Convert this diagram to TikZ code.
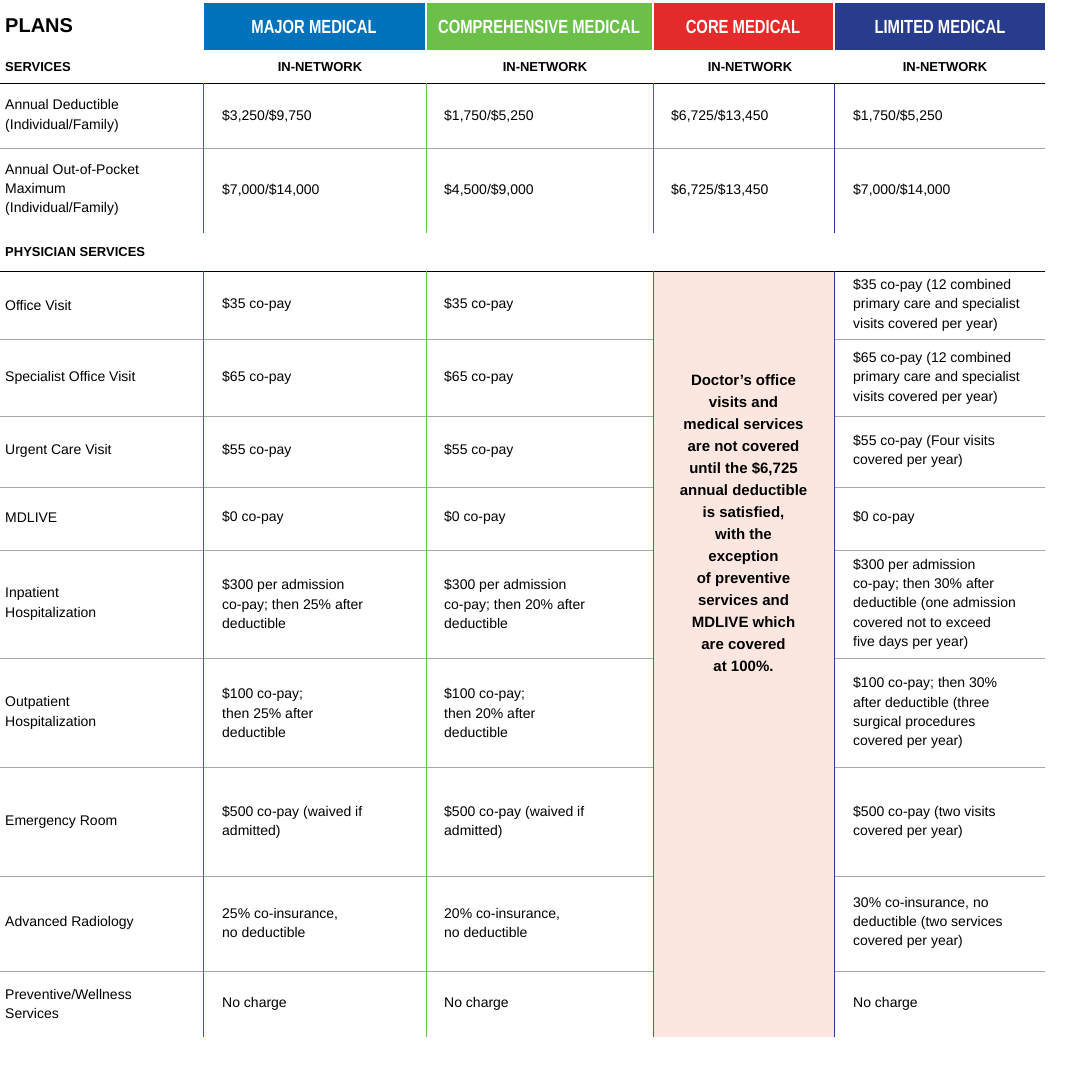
\documentclass[tikz,border=0pt]{standalone}
\usepackage{fontspec}
\setmainfont{Liberation Sans}
\newfontfamily\condfont[FakeStretch=0.78]{Liberation Sans}
\usetikzlibrary{positioning}
\usepackage{xcolor}
\definecolor{majorblue}{HTML}{0072BC}
\definecolor{compgreen}{HTML}{6CC04A}
\definecolor{corered}{HTML}{E42B2B}
\definecolor{limitblue}{HTML}{283C8E}
\definecolor{corepink}{HTML}{FCE6E0}

\begin{document}
\begin{tikzpicture}[
        x=1pt, y=-1pt,
        cell/.style={anchor=west, align=left, inner sep=0pt, font=\fontsize{14}{19.3}\selectfont},
        head/.style={fill=#1, text=white, minimum height=47pt, inner sep=0pt, font=\condfont\bfseries\fontsize{19}{20}\selectfont},
        subhead/.style={inner sep=0pt, font=\bfseries\fontsize{13}{15}\selectfont},
        grid/.style={gray!70, line width=0.6pt}
    ]
        \useasboundingbox (0,0) rectangle (1076,1071);

        % Plan headers
        \node[font=\bfseries\fontsize{20}{22}\selectfont, anchor=west, inner sep=0pt] (plans) at (5,26) {PLANS};
        \node[head=majorblue, minimum width=221pt] (major) at (314,26.5) {MAJOR MEDICAL};
        \node[head=compgreen, minimum width=225pt] (comp) at (539,26.5) {COMPREHENSIVE MEDICAL};
        \node[head=corered, minimum width=179pt] (core) at (743,26.5) {CORE MEDICAL};
        \node[head=limitblue, minimum width=210pt] (limit) at (940,26.5) {LIMITED MEDICAL};

        \node[subhead, anchor=west] (services) at (5,67) {SERVICES};
        \foreach \x/\n in {320/a, 545/b, 750/c, 945/d}
            \node[subhead] (net\n) at (\x,67) {IN-NETWORK};

        % Core column background
        \fill[corepink] (653,271) rectangle (834,1037);

        % Rules
        \draw[black, line width=0.9pt] (0,83) -- (1045,83);
        \draw[black, line width=0.9pt] (0,271) -- (1045,271);
        \draw[grid] (0,148) -- (1045,148);
        \foreach \y in {339,416,487,550,658,767,876,971} {
            \draw[grid] (0,\y) -- (653,\y);
            \draw[grid] (834,\y) -- (1045,\y);
        }

        % Column separators
        \foreach \x/\c in {203/majorblue, 426/compgreen, 653/corered, 834/limitblue} {
            \draw[\c, line width=0.9pt] (\x,83) -- (\x,233);
            \draw[\c, line width=0.9pt] (\x,271) -- (\x,1037);
        }

        % Deductibles
        \node[cell] (deduct) at (5,116) {Annual Deductible\\(Individual/Family)};
        \node[cell] (deducta) at (222,116) {\$3,250/\$9,750};
        \node[cell] (deductb) at (444,116) {\$1,750/\$5,250};
        \node[cell] (deductc) at (671,116) {\$6,725/\$13,450};
        \node[cell] (deductd) at (853,116) {\$1,750/\$5,250};

        \node[cell] (oop) at (5,190) {Annual Out-of-Pocket\\Maximum\\(Individual/Family)};
        \node[cell] (oopa) at (222,190) {\$7,000/\$14,000};
        \node[cell] (oopb) at (444,190) {\$4,500/\$9,000};
        \node[cell] (oopc) at (671,190) {\$6,725/\$13,450};
        \node[cell] (oopd) at (853,190) {\$7,000/\$14,000};

        \node[subhead, anchor=west] (physician) at (5,252) {PHYSICIAN SERVICES};

        % Physician rows
        \node[cell] (office) at (5,305) {Office Visit};
        \node[cell] (officea) at (222,305) {\$35 co-pay};
        \node[cell] (officeb) at (444,305) {\$35 co-pay};
        \node[cell] (officed) at (853,305) {\$35 co-pay (12 combined\\primary care and specialist\\visits covered per year)};

        \node[cell] (spec) at (5,378) {Specialist Office Visit};
        \node[cell] (speca) at (222,378) {\$65 co-pay};
        \node[cell] (specb) at (444,378) {\$65 co-pay};
        \node[cell] (specd) at (853,378) {\$65 co-pay (12 combined\\primary care and specialist\\visits covered per year)};

        \node[cell] (urgent) at (5,451) {Urgent Care Visit};
        \node[cell] (urgenta) at (222,451) {\$55 co-pay};
        \node[cell] (urgentb) at (444,451) {\$55 co-pay};
        \node[cell] (urgentd) at (853,451) {\$55 co-pay (Four visits\\covered per year)};

        \node[cell] (mdlive) at (5,518) {MDLIVE};
        \node[cell] (mdlivea) at (222,518) {\$0 co-pay};
        \node[cell] (mdliveb) at (444,518) {\$0 co-pay};
        \node[cell] (mdlived) at (853,518) {\$0 co-pay};

        \node[cell] (inpat) at (5,604) {Inpatient\\Hospitalization};
        \node[cell] (inpata) at (222,604) {\$300 per admission\\co-pay; then 25\% after\\deductible};
        \node[cell] (inpatb) at (444,604) {\$300 per admission\\co-pay; then 20\% after\\deductible};
        \node[cell] (inpatd) at (853,604) {\$300 per admission\\co-pay; then 30\% after\\deductible (one admission\\covered not to exceed\\five days per year)};

        \node[cell] (outpat) at (5,713) {Outpatient\\Hospitalization};
        \node[cell] (outpata) at (222,713) {\$100 co-pay;\\then 25\% after\\deductible};
        \node[cell] (outpatb) at (444,713) {\$100 co-pay;\\then 20\% after\\deductible};
        \node[cell] (outpatd) at (853,713) {\$100 co-pay; then 30\%\\after deductible (three\\surgical procedures\\covered per year)};

        \node[cell] (er) at (5,822) {Emergency Room};
        \node[cell] (era) at (222,822) {\$500 co-pay (waived if\\admitted)};
        \node[cell] (erb) at (444,822) {\$500 co-pay (waived if\\admitted)};
        \node[cell] (erd) at (853,822) {\$500 co-pay (two visits\\covered per year)};

        \node[cell] (radio) at (5,923) {Advanced Radiology};
        \node[cell] (radioa) at (222,923) {25\% co-insurance,\\no deductible};
        \node[cell] (radiob) at (444,923) {20\% co-insurance,\\no deductible};
        \node[cell] (radiod) at (853,923) {30\% co-insurance, no\\deductible (two services\\covered per year)};

        \node[cell] (prev) at (5,1004) {Preventive/Wellness\\Services};
        \node[cell] (preva) at (222,1004) {No charge};
        \node[cell] (prevb) at (444,1004) {No charge};
        \node[cell] (prevd) at (853,1004) {No charge};

        % Core note
        \node[align=center, inner sep=0pt, font=\bfseries\fontsize{15}{22}\selectfont] (corenote) at (743.5,523) {Doctor’s office\\visits and\\medical services\\are not covered\\until the \$6,725\\annual deductible\\is satisfied,\\with the\\exception\\of preventive\\services and\\MDLIVE which\\are covered\\at 100\%.};
    \end{tikzpicture}
\end{document}
